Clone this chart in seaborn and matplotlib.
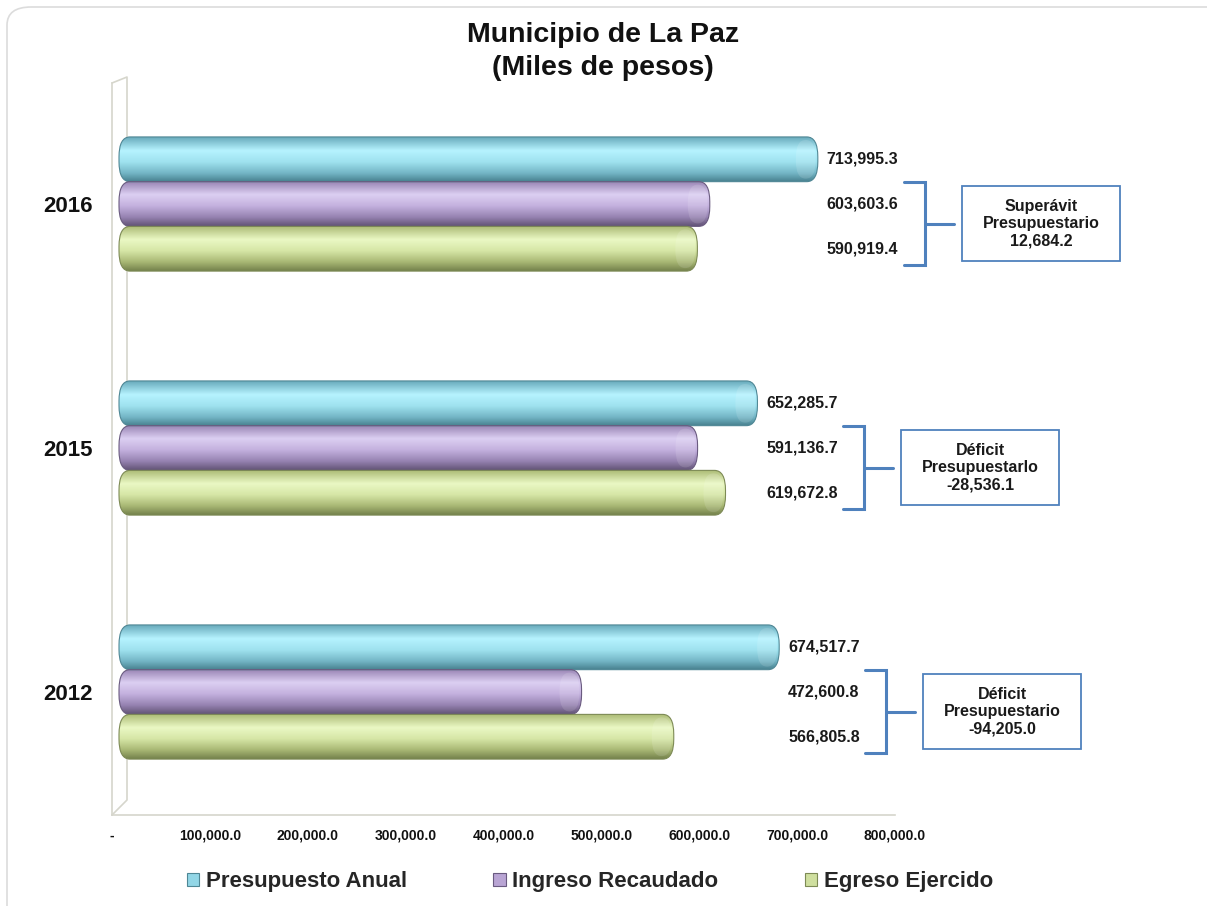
import numpy as np
import pandas as pd
import matplotlib
matplotlib.use("Agg")
import matplotlib.pyplot as plt
import seaborn as sns
from matplotlib.patches import FancyBboxPatch, Rectangle, Patch
from matplotlib.colors import LinearSegmentedColormap
from matplotlib.ticker import FuncFormatter

# ---------------- data ----------------
years = ["2016", "2015", "2012"]
series = ["Presupuesto Anual", "Ingreso Recaudado", "Egreso Ejercido"]
presupuesto = [713995.3, 652285.7, 674517.7]
ingreso = [603603.6, 591136.7, 472600.8]
egreso = [590919.4, 619672.8, 566805.8]
balance_titles = ["Superávit\nPresupuestario", "Déficit\nPresupuestarlo", "Déficit\nPresupuestario"]
xticks = [0, 100000, 200000, 300000, 400000, 500000, 600000, 700000, 800000]

# ---------------- style ----------------
sns.set_theme(style="white")
plt.rcParams["font.family"] = ["Liberation Sans", "DejaVu Sans"]

mid_colors = ["#92d6e6", "#b9a5d4", "#cfdf9f"]
grad_colors = [
    ["#68aabb", "#b6f3ff", "#9fe2ef", "#74b6c6", "#467f8d"],
    ["#9782b2", "#dccff2", "#c4b1de", "#9783b2", "#625476"],
    ["#abba74", "#eaf8c4", "#d6e6a6", "#a8b774", "#73814b"],
]
edge_colors = ["#4f8795", "#6a5b80", "#7d8a55"]

df = pd.DataFrame({
    "year": years * 3,
    "serie": [series[0]] * 3 + [series[1]] * 3 + [series[2]] * 3,
    "value": presupuesto + ingreso + egreso,
})

W, H = 1207, 906
fig = plt.figure(figsize=(W / 100, H / 100), dpi=100)
ax_l, ax_r, ax_t, ax_b = 112, 895, 83, 815
ax = fig.add_axes([ax_l / W, (H - ax_b) / H, (ax_r - ax_l) / W, (ax_b - ax_t) / H])

sns.barplot(data=df, y="year", x="value", hue="serie", order=years, hue_order=series,
            palette=mid_colors, orient="h", width=0.55, errorbar=None, ax=ax, legend=False)

xlim = (0, 800000)
ylim = (2.504, -0.496)
ax.set_xlim(*xlim)
ax.set_ylim(*ylim)
xpp = (xlim[1] - xlim[0]) / (ax_r - ax_l)      # data per pixel (x)
ypp = (ylim[0] - ylim[1]) / (ax_b - ax_t)      # data per pixel (y)

# cylinder-like bars: rounded patch + vertical gradient, shifted by the 3D depth
depth = 7 * xpp
rx_px, ry_px = 11, 20
for i, cont in enumerate(ax.containers):
    cmap = LinearSegmentedColormap.from_list(f"g{i}", list(zip([0, 0.3, 0.55, 0.8, 1.0], grad_colors[i])))
    grad = np.linspace(0, 1, 256).reshape(-1, 1)
    for bar in cont:
        x0, y0, w, h = bar.get_x() + depth, bar.get_y(), bar.get_width(), bar.get_height()
        bar.set_visible(False)
        rp = FancyBboxPatch((x0, y0), w, h,
                            boxstyle=f"round,pad=0,rounding_size={rx_px * xpp}",
                            mutation_aspect=(ry_px * ypp) / (rx_px * xpp),
                            facecolor="none", edgecolor=edge_colors[i], lw=0.8, zorder=3)
        ax.add_patch(rp)
        im = ax.imshow(grad, cmap=cmap, aspect="auto", origin="upper",
                       extent=(x0, x0 + w, y0 + h, y0), zorder=2, interpolation="bilinear")
        im.set_clip_path(rp)
        # right end cap shading
        cap = FancyBboxPatch((x0 + w - 2 * rx_px * xpp, y0 + 3 * ypp), 2 * rx_px * xpp * 0.9, h - 6 * ypp,
                             boxstyle=f"round,pad=0,rounding_size={rx_px * xpp * 0.9}",
                             mutation_aspect=(ry_px * ypp) / (rx_px * xpp),
                             facecolor="white", alpha=0.12, edgecolor="none", zorder=3)
        ax.add_patch(cap)

ax.set_xlim(*xlim)
ax.set_ylim(*ylim)

# value labels, brackets and boxes
bracket_c = "#4f81bd"
for gi, yr in enumerate(years):
    vals = [presupuesto[gi], ingreso[gi], egreso[gi]]
    gmax = max(vals)
    for si, v in enumerate(vals):
        yc = gi + (si - 1) * 0.55 / 3
        ax.annotate(f"{v:,.1f}", xy=(gmax, yc), xytext=(16 * 0.72, 0), textcoords="offset points",
                    ha="left", va="center", fontsize=11.5, fontweight="bold", color="#1a1a1a",
                    annotation_clip=False)
    top = gi - 22 * ypp
    bot = gi + 61 * ypp
    mid = (top + bot) / 2
    xl = gmax + 93 * xpp
    xv = gmax + 114 * xpp
    xs = gmax + 143 * xpp
    ax.plot([xl, xv, xv, xl], [top, top, bot, bot], color=bracket_c, lw=2.2, clip_on=False,
            solid_joinstyle="miter", zorder=4)
    ax.plot([xv, xs], [mid, mid], color=bracket_c, lw=2.2, clip_on=False, zorder=4)
    bx = gmax + 151 * xpp
    bw = 158 * xpp
    bh = 75 * ypp
    ax.add_patch(Rectangle((bx, mid - bh / 2), bw, bh, facecolor="white", edgecolor=bracket_c,
                           lw=1.3, clip_on=False, zorder=4))
    bal = ingreso[gi] - egreso[gi]
    ax.text(bx + bw / 2, mid, f"{balance_titles[gi]}\n{bal:,.1f}", ha="center", va="center",
            fontsize=11.5, fontweight="bold", linespacing=1.2, color="#1a1a1a", zorder=5)

# axes styling
ax.set_xticks(xticks)
ax.xaxis.set_major_formatter(FuncFormatter(lambda v, p: "-" if v == 0 else f"{v:,.1f}"))
ax.tick_params(axis="x", direction="in", length=5, color="#d6d6cc", pad=10, labelsize=10)
ax.tick_params(axis="y", length=0, pad=14, labelsize=16)
for lab in ax.get_xticklabels() + ax.get_yticklabels():
    lab.set_fontweight("bold")
    lab.set_color("#111111")
ax.set_xlabel("")
ax.set_ylabel("")
for s in ["top", "right"]:
    ax.spines[s].set_visible(False)
for s in ["left", "bottom"]:
    ax.spines[s].set_color("#d6d6cc")
    ax.spines[s].set_linewidth(1.2)

# 3D side wall
wx = 15 * xpp
ax.plot([0, wx, wx, 0], [ylim[1], ylim[1] - 6 * ypp, ylim[0] - 15 * ypp, ylim[0]],
        color="#d6d6cc", lw=1.2, clip_on=False, zorder=1)

# title (two lines placed separately to match spacing)
fig.text(603 / W, 1 - 35 / H, "Municipio de La Paz", ha="center", va="center",
         fontsize=20.5, fontweight="bold", color="#111111")
fig.text(603 / W, 1 - 68 / H, "(Miles de pesos)", ha="center", va="center",
         fontsize=20.5, fontweight="bold", color="#111111")

# legend
handles = [Patch(facecolor=mid_colors[i], edgecolor=edge_colors[i], lw=0.8) for i in range(3)]
leg = fig.legend(handles, series, loc="center", bbox_to_anchor=(590 / W, 1 - 882 / H), ncol=3,
                 frameon=False, handlelength=0.55, handleheight=0.55, handletextpad=0.3,
                 columnspacing=3.9, prop={"size": 16, "weight": "bold"})

# outer rounded frame
frame = FancyBboxPatch((7 / W, -0.05), 1.2, 1 - 7 / H + 0.05, transform=fig.transFigure,
                       boxstyle="round,pad=0,rounding_size=0.02", facecolor="none",
                       edgecolor="#dcdcdc", lw=1.2, zorder=0)
fig.patches.append(frame)

fig.savefig("out.png", dpi=100)
